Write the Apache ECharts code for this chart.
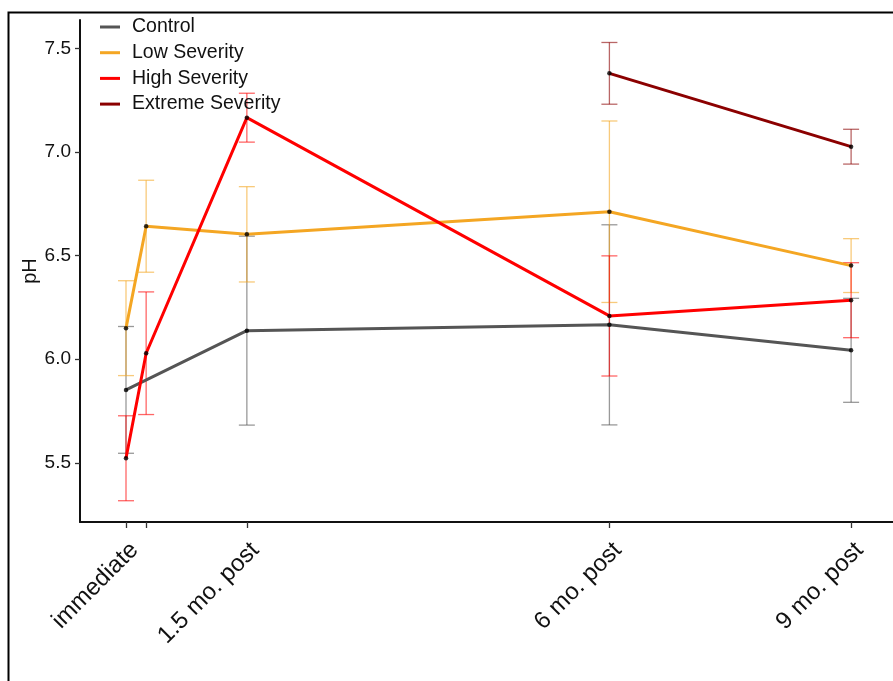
<!DOCTYPE html>
<html>
<head>
<meta charset="utf-8">
<script src="https://cdn.jsdelivr.net/npm/echarts@6/dist/echarts.min.js"></script>
<style>
  html, body { margin: 0; padding: 0; background: #fff; }
  #chart { width: 893px; height: 681px; }
</style>
</head>
<body>
<div id="chart"></div>
<script>
// Sampling times in months after the fire (0 = immediate, 0.25 = one week)
const timePoints = [0, 0.25, 1.5, 6, 9];
const timeLabels = { 0: 'immediate', 1.5: '1.5 mo. post', 6: '6 mo. post', 9: '9 mo. post' };
const labelledTimes = [0, 1.5, 6, 9];
const yTicks = [5.5, 6.0, 6.5, 7.0, 7.5];

const groups = ['Control', 'Low Severity', 'High Severity', 'Extreme Severity'];

// Mean soil pH and standard error for each group
const controlTimes = [0, 1.5, 6, 9];
const controlMean = [5.852, 6.138, 6.166, 6.043];
const controlErr = [0.306, 0.456, 0.483, 0.251];

const lowTimes = [0, 0.25, 1.5, 6, 9];
const lowMean = [6.150, 6.642, 6.603, 6.712, 6.452];
const lowErr = [0.229, 0.222, 0.230, 0.438, 0.130];

const highTimes = [0, 0.25, 1.5, 6, 9];
const highMean = [5.522, 6.029, 7.166, 6.209, 6.285];
const highErr = [0.205, 0.296, 0.118, 0.290, 0.181];

const extremeTimes = [6, 9];
const extremeMean = [7.380, 7.026];
const extremeErr = [0.149, 0.084];

const lineColors = ['#555555', '#F4A623', '#FF0000', '#8B0000'];
const barColors = ['rgba(85,85,85,0.6)', 'rgba(244,166,35,0.6)', 'rgba(255,0,0,0.6)', 'rgba(139,0,0,0.6)'];

const groupData = [
  [controlTimes, controlMean, controlErr],
  [lowTimes, lowMean, lowErr],
  [highTimes, highMean, highErr],
  [extremeTimes, extremeMean, extremeErr]
];

const FONT = 'Liberation Sans, Arial, sans-serif';

function errorBarItem(color) {
  return function (params, api) {
    const x = api.value(0);
    const top = api.coord([x, api.value(2)]);
    const bot = api.coord([x, api.value(1)]);
    const half = 8;
    const style = { stroke: color, lineWidth: 1.3, fill: null };
    return {
      type: 'group',
      children: [
        { type: 'line', shape: { x1: top[0], y1: top[1], x2: bot[0], y2: bot[1] }, style },
        { type: 'line', shape: { x1: top[0] - half, y1: top[1], x2: top[0] + half, y2: top[1] }, style },
        { type: 'line', shape: { x1: bot[0] - half, y1: bot[1], x2: bot[0] + half, y2: bot[1] }, style }
      ]
    };
  };
}

const series = [];
groupData.forEach(function (g, i) {
  const [times, means, errs] = g;
  series.push({
    name: groups[i] + ' SE',
    type: 'custom',
    renderItem: errorBarItem(barColors[i]),
    data: times.map((t, k) => [t, means[k] - errs[k], means[k] + errs[k]]),
    z: 1,
    silent: true
  });
});
groupData.forEach(function (g, i) {
  const [times, means] = g;
  series.push({
    name: groups[i],
    type: 'line',
    data: times.map((t, k) => [t, means[k]]),
    showSymbol: false,
    symbol: 'none',
    color: lineColors[i],
    lineStyle: { color: lineColors[i], width: 3 },
    z: 2,
    silent: true
  });
});
groupData.forEach(function (g, i) {
  const [times, means] = g;
  series.push({
    name: groups[i] + ' mean',
    type: 'scatter',
    data: times.map((t, k) => [t, means[k]]),
    symbolSize: 4.5,
    itemStyle: { color: '#000' },
    z: 3,
    silent: true
  });
});

const chart = echarts.init(document.getElementById('chart'), null, { renderer: 'canvas' });
chart.setOption({
  animation: false,
  backgroundColor: '#fff',
  grid: { left: 80, top: 20, right: 0, bottom: 159, containLabel: false },
  legend: {
    data: groups.map((n, i) => ({ name: n, icon: 'rect', itemStyle: { color: lineColors[i] } })),
    orient: 'vertical',
    left: 95,
    top: 12,
    itemWidth: 20,
    itemHeight: 3,
    itemGap: 5.7,
    textStyle: { fontFamily: FONT, fontSize: 19.5, color: '#111', lineHeight: 20, padding: [0, 0, 0, 7] }
  },
  xAxis: {
    type: 'value',
    min: -0.571,
    max: 9.52,
    splitLine: { show: false },
    axisLine: { show: true, onZero: false, lineStyle: { color: '#111', width: 2 } },
    axisTick: { show: true, length: 6, customValues: timePoints, lineStyle: { color: '#333', width: 1.3 } },
    axisLabel: {
      customValues: labelledTimes,
      rotate: 45,
      margin: 16,
      align: 'right',
      verticalAlign: 'top',
      fontFamily: FONT,
      fontSize: 24,
      color: '#111',
      formatter: function (v) { return timeLabels[v] || ''; }
    }
  },
  yAxis: {
    type: 'value',
    min: 5.2143,
    max: 7.6375,
    name: 'pH',
    nameLocation: 'middle',
    nameGap: 40,
    nameRotate: 90,
    nameMoveOverlap: false,
    nameTextStyle: { fontFamily: FONT, fontSize: 20, color: '#111' },
    splitLine: { show: false },
    axisLine: { show: true, onZero: false, lineStyle: { color: '#111', width: 2 } },
    axisTick: { show: true, length: 5, customValues: yTicks, lineStyle: { color: '#333', width: 1.3 } },
    axisLabel: {
      customValues: yTicks,
      margin: 9,
      fontFamily: FONT,
      fontSize: 19,
      color: '#111',
      formatter: function (v) { return v.toFixed(1); }
    }
  },
  graphic: [{
    type: 'rect',
    left: 6, top: 10,
    shape: { width: 900, height: 700 },
    style: { stroke: '#000', lineWidth: 2, fill: null },
    silent: true,
    z: 100
  }],
  series: series
});
</script>
</body>
</html>
